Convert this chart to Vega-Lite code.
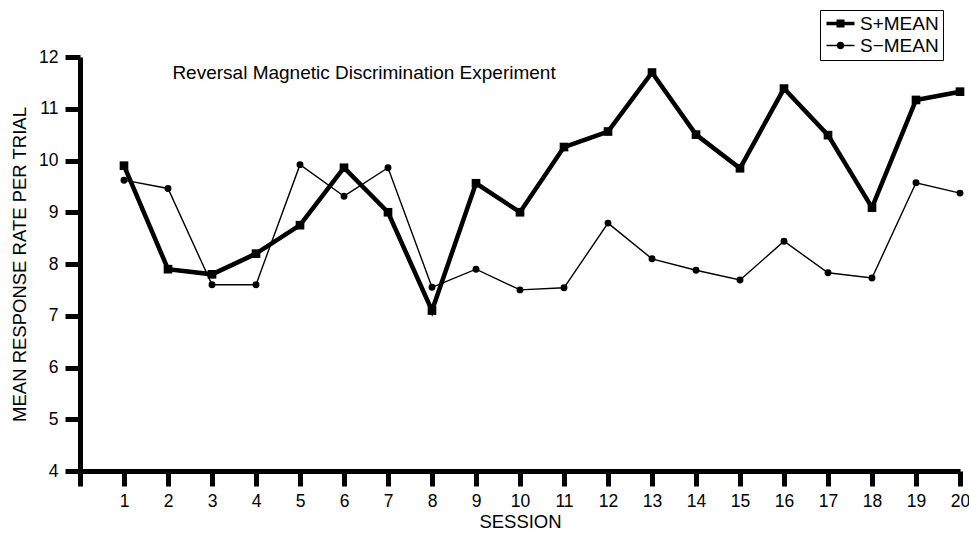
{
  "$schema": "https://vega.github.io/schema/vega-lite/v6.json",
  "width": 880,
  "height": 414,
  "autosize": {"type": "none"},
  "padding": {"left": 80, "top": 57, "right": 9, "bottom": 65},
  "config": {
    "view": {"stroke": null},
    "font": "Liberation Sans",
    "axis": {"domainColor": "black", "tickColor": "black", "labelColor": "black", "titleColor": "black", "grid": false, "titleFontWeight": "normal"}
  },
  "datasets": {
    "series": [
      {"session": 1, "value": 9.9, "series": "S+MEAN"},
      {"session": 2, "value": 7.9, "series": "S+MEAN"},
      {"session": 3, "value": 7.8, "series": "S+MEAN"},
      {"session": 4, "value": 8.2, "series": "S+MEAN"},
      {"session": 5, "value": 8.75, "series": "S+MEAN"},
      {"session": 6, "value": 9.86, "series": "S+MEAN"},
      {"session": 7, "value": 9.0, "series": "S+MEAN"},
      {"session": 8, "value": 7.1, "series": "S+MEAN"},
      {"session": 9, "value": 9.56, "series": "S+MEAN"},
      {"session": 10, "value": 9.0, "series": "S+MEAN"},
      {"session": 11, "value": 10.26, "series": "S+MEAN"},
      {"session": 12, "value": 10.56, "series": "S+MEAN"},
      {"session": 13, "value": 11.7, "series": "S+MEAN"},
      {"session": 14, "value": 10.5, "series": "S+MEAN"},
      {"session": 15, "value": 9.85, "series": "S+MEAN"},
      {"session": 16, "value": 11.39, "series": "S+MEAN"},
      {"session": 17, "value": 10.49, "series": "S+MEAN"},
      {"session": 18, "value": 9.09, "series": "S+MEAN"},
      {"session": 19, "value": 11.17, "series": "S+MEAN"},
      {"session": 20, "value": 11.33, "series": "S+MEAN"},
      {"session": 1, "value": 9.62, "series": "S−MEAN"},
      {"session": 2, "value": 9.46, "series": "S−MEAN"},
      {"session": 3, "value": 7.6, "series": "S−MEAN"},
      {"session": 4, "value": 7.6, "series": "S−MEAN"},
      {"session": 5, "value": 9.92, "series": "S−MEAN"},
      {"session": 6, "value": 9.31, "series": "S−MEAN"},
      {"session": 7, "value": 9.86, "series": "S−MEAN"},
      {"session": 8, "value": 7.55, "series": "S−MEAN"},
      {"session": 9, "value": 7.9, "series": "S−MEAN"},
      {"session": 10, "value": 7.5, "series": "S−MEAN"},
      {"session": 11, "value": 7.54, "series": "S−MEAN"},
      {"session": 12, "value": 8.79, "series": "S−MEAN"},
      {"session": 13, "value": 8.1, "series": "S−MEAN"},
      {"session": 14, "value": 7.88, "series": "S−MEAN"},
      {"session": 15, "value": 7.69, "series": "S−MEAN"},
      {"session": 16, "value": 8.44, "series": "S−MEAN"},
      {"session": 17, "value": 7.83, "series": "S−MEAN"},
      {"session": 18, "value": 7.73, "series": "S−MEAN"},
      {"session": 19, "value": 9.57, "series": "S−MEAN"},
      {"session": 20, "value": 9.37, "series": "S−MEAN"}
    ],
    "note": [
      {"session": 2.1, "value": 11.69, "label": "Reversal Magnetic Discrimination Experiment"}
    ]
  },
  "encoding": {
    "x": {
      "field": "session", "type": "quantitative",
      "scale": {"domain": [0, 20], "nice": false, "zero": false},
      "axis": {
        "title": "SESSION", "titleFontSize": 18.5, "titlePadding": 3,
        "values": [0,1,2,3,4,5,6,7,8,9,10,11,12,13,14,15,16,17,18,19,20],
        "labelExpr": "datum.value == 0 ? '' : datum.label",
        "labelFontSize": 17.5, "labelPadding": 6, "labelFlush": false,
        "tickSize": 15, "tickWidth": 5, "domainWidth": 5
      }
    },
    "y": {
      "field": "value", "type": "quantitative",
      "scale": {"domain": [4, 12], "nice": false, "zero": false},
      "axis": {
        "title": "MEAN RESPONSE RATE PER TRIAL", "titleFontSize": 18.5, "titlePadding": 9,
        "values": [4,5,6,7,8,9,10,11,12],
        "labelFontSize": 17.5, "labelPadding": 7,
        "tickSize": 15, "tickWidth": 5, "domainWidth": 5
      }
    }
  },
  "layer": [
    {
      "data": {"name": "series"},
      "transform": [{"filter": "datum.series == 'S+MEAN'"}],
      "mark": {"type": "line", "color": "black", "strokeWidth": 4.5},
      "encoding": {}
    },
    {
      "data": {"name": "series"},
      "transform": [{"filter": "datum.series != 'S+MEAN'"}],
      "mark": {"type": "line", "color": "black", "strokeWidth": 1.4},
      "encoding": {}
    },
    {
      "data": {"name": "series"},
      "transform": [{"filter": "datum.series == 'S+MEAN'"}],
      "mark": {"type": "point", "shape": "square", "filled": true, "color": "black", "opacity": 1, "size": 75},
      "encoding": {}
    },
    {
      "data": {"name": "series"},
      "transform": [{"filter": "datum.series != 'S+MEAN'"}],
      "mark": {"type": "point", "shape": "circle", "filled": true, "color": "black", "opacity": 1, "size": 48},
      "encoding": {}
    },
    {
      "data": {"name": "series"},
      "mark": {"type": "point", "filled": true, "color": "black", "size": 0},
      "encoding": {
        "shape": {
          "field": "series", "type": "nominal",
          "scale": {"domain": ["S+MEAN", "S−MEAN"], "range": ["M-1,-0.25H3V0.25H-1Z M0.43,-0.57H1.57V0.57H0.43Z", "M-1,-0.1H3V0.1H-1Z M1.54,0 A0.54,0.54 0 1,1 0.46,0 A0.54,0.54 0 1,1 1.54,0 Z"]},
          "legend": {
            "title": null, "orient": "none", "legendX": 740, "legendY": -47,
            "strokeColor": "black", "padding": 4, "cornerRadius": 0,
            "labelFontSize": 19, "labelColor": "black", "labelOffset": 17,
            "rowPadding": 2, "symbolSize": 196,
            "symbolFillColor": "black", "symbolStrokeColor": "transparent", "symbolOpacity": 1
          }
        }
      }
    },
    {
      "data": {"name": "note"},
      "mark": {"type": "text", "align": "left", "baseline": "middle", "fontSize": 19, "color": "black"},
      "encoding": {"text": {"field": "label"}}
    }
  ]
}
